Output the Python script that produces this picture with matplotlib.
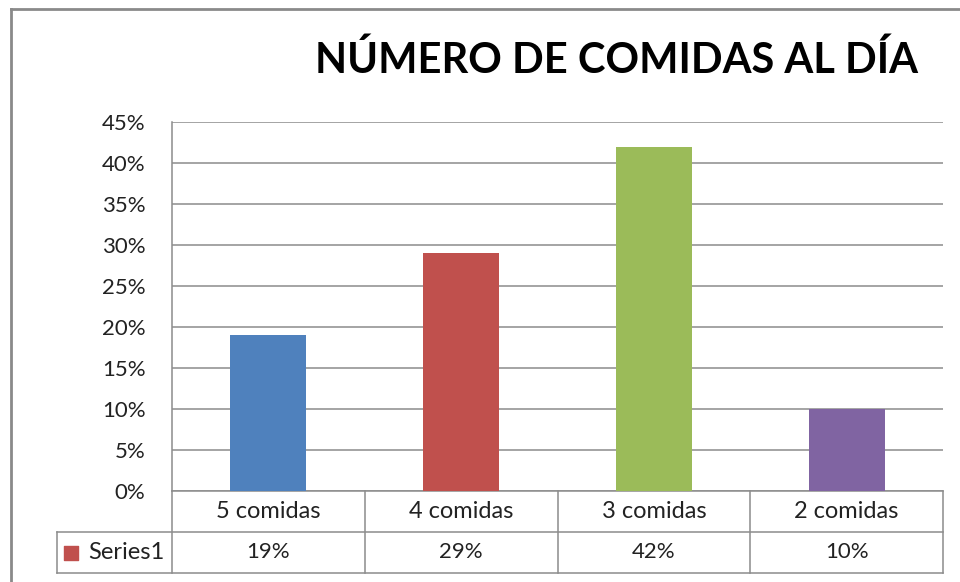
import matplotlib.pyplot as plt
from matplotlib.lines import Line2D
from matplotlib.ticker import FuncFormatter

# --- datos ---
categorias = ["5 comidas", "4 comidas", "3 comidas", "2 comidas"]
porcentajes = [19, 29, 42, 10]
colores = ["#4F81BD", "#C0504D", "#9BBB59", "#8064A2"]
serie = "Series1"
titulo = "NÚMERO DE COMIDAS AL DÍA"
yticks = [0, 5, 10, 15, 20, 25, 30, 35, 40, 45]

plt.rcParams['font.family'] = ['Lato', 'DejaVu Sans']
GRIS = "#8C8C8C"

fig = plt.figure(figsize=(9.6, 5.82), dpi=100)
ax = fig.add_axes([172 / 960, 91 / 582, 771 / 960, 369 / 582])

x = list(range(len(categorias)))
ax.bar(x, porcentajes, width=0.395, color=colores, zorder=3)

ax.set_xlim(-0.5, len(categorias) - 0.5)
ax.set_ylim(0, 45)
ax.set_yticks(yticks)
ax.yaxis.set_major_formatter(FuncFormatter(lambda v, p: f"{v:.0f}%"))
ax.set_xticks([])
ax.tick_params(axis='y', length=0, pad=19, labelsize=16, labelcolor="#222222")
ax.grid(axis='y', color=GRIS, lw=1.1, zorder=0)
for s in ["top", "right", "bottom"]:
    ax.spines[s].set_visible(False)
ax.spines["left"].set_color(GRIS)
ax.spines["left"].set_linewidth(1.1)

# --- tabla de datos (debajo del eje) ---
paso = 5  # una fila = un intervalo de la rejilla
x_leyenda = -0.5 - 115 / 192.75
kw = dict(color=GRIS, lw=1.1, clip_on=False)
ax.plot([-0.5, len(categorias) - 0.5], [0, 0], **kw)
ax.plot([x_leyenda, len(categorias) - 0.5], [-paso, -paso], **kw)
ax.plot([x_leyenda, len(categorias) - 0.5], [-2 * paso, -2 * paso], **kw)
ax.plot([x_leyenda, x_leyenda], [-paso, -2 * paso], **kw)
ax.plot([-0.5, -0.5], [0, -2 * paso], **kw)
for i in x:
    ax.plot([i + 0.5, i + 0.5], [0, -2 * paso], **kw)
    ax.text(i, -paso / 2, categorias[i], ha='center', va='center',
            fontsize=17, color="#222222")
    ax.text(i, -1.5 * paso, f"{porcentajes[i]}%", ha='center', va='center',
            fontsize=16, color="#222222")

# clave de la serie
ax.scatter([x_leyenda + 0.075], [-1.5 * paso], marker='s', s=110,
           color=colores[1], clip_on=False, zorder=4)
ax.text(x_leyenda + 0.16, -1.5 * paso, serie, ha='left', va='center',
        fontsize=17, color="#222222")

# titulo
fig.text(0.642, 0.897, titulo, ha='center', va='center',
         fontsize=30, fontweight='bold', color="black")

# borde exterior
fig.add_artist(Line2D([11 / 960, 11 / 960], [0, 1 - 9 / 582],
                      transform=fig.transFigure, color="#8A8A8A", lw=2))
fig.add_artist(Line2D([11 / 960, 1], [1 - 9 / 582, 1 - 9 / 582],
                      transform=fig.transFigure, color="#8A8A8A", lw=2))

fig.savefig("out.png", dpi=100)
